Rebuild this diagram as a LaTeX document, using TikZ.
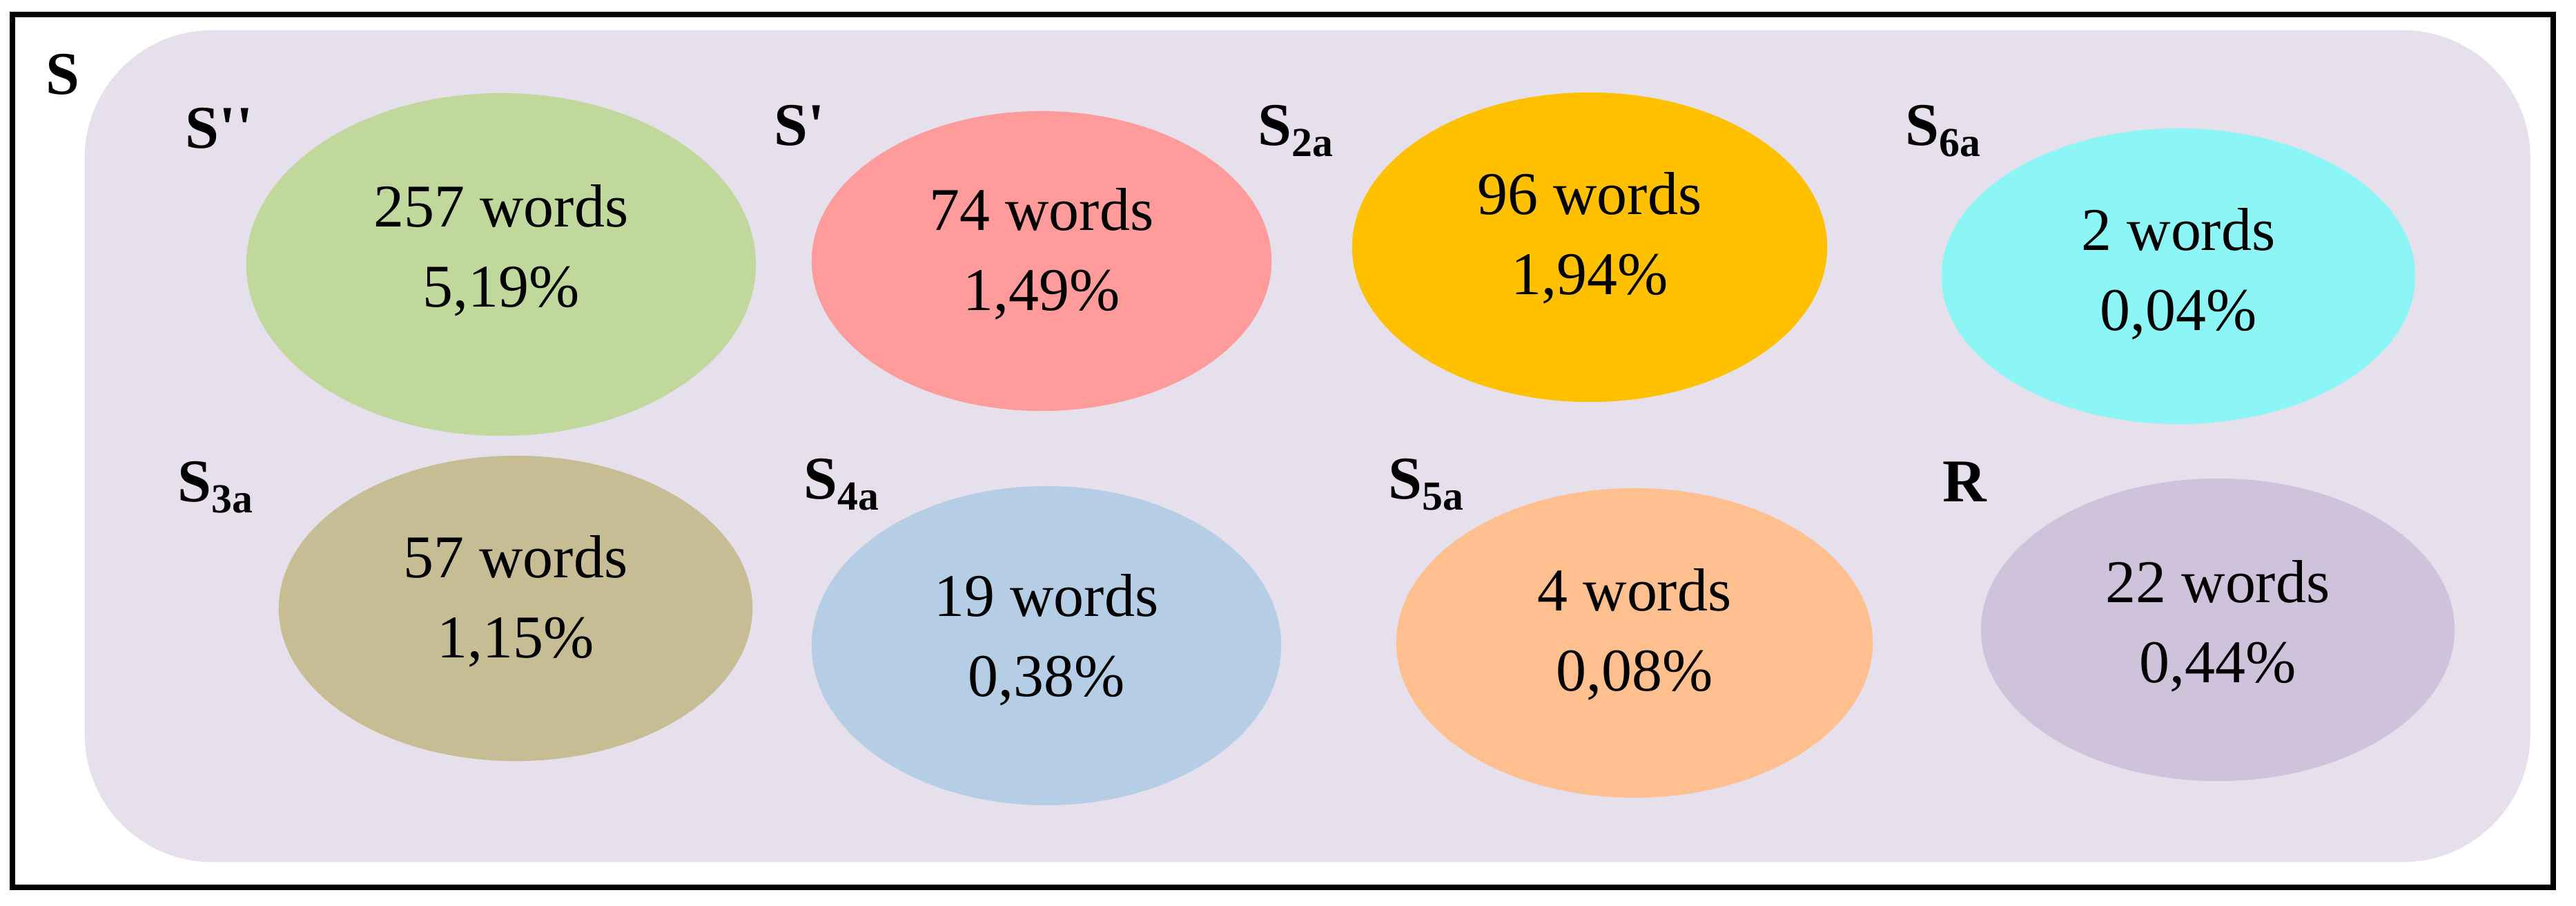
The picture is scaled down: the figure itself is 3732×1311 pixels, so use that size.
\documentclass[tikz,border=0pt]{standalone}
\usepackage{fontspec}
\setmainfont{Liberation Serif}
\usetikzlibrary{calc,shapes.geometric}
\definecolor{bgl}{HTML}{E6E0EC}
\definecolor{cgreen}{HTML}{C1D89C}
\definecolor{cpink}{HTML}{FF9B9B}
\definecolor{cyell}{HTML}{FFC000}
\definecolor{ccyan}{HTML}{8CF6F6}
\definecolor{colive}{HTML}{C6BD95}
\definecolor{cblue}{HTML}{B5CEE6}
\definecolor{cpeach}{HTML}{FFBF8F}
\definecolor{cpurp}{HTML}{CFC2DB}
\tikzset{
  blob/.style={ellipse, inner sep=0pt, draw=none},
  txt/.style={align=center, font=\fontsize{25}{33}\selectfont, inner sep=0pt},
  lbl/.style={font=\fontsize{25}{28}\selectfont\bfseries, inner sep=0pt, anchor=base west},
}
\newcommand{\sbx}[1]{\raisebox{-0.4ex}{\fontsize{17}{17}\selectfont\bfseries #1}}
\begin{document}
\begin{tikzpicture}[x=0.01cm,y=-0.01cm]
\useasboundingbox (0,0) rectangle (3732,1311);
\draw[line width=2.2pt] (18,21) rectangle (3699,1285);
\node[fill=bgl, rounded corners=1.85cm, minimum width=35.41cm, minimum height=12.04cm, inner sep=0pt, anchor=north west] (set) at (122,43) {};
\node[lbl] (lS) at (66,136) {S};
% ellipses
\node[blob, fill=cgreen, minimum width=7.38cm, minimum height=4.96cm] (e1) at (726,383) {};
\node[blob, fill=cpink, minimum width=6.66cm, minimum height=4.34cm] (e2) at (1509,378) {};
\node[blob, fill=cyell, minimum width=6.88cm, minimum height=4.48cm] (e3) at (2303,358) {};
\node[blob, fill=ccyan, minimum width=6.86cm, minimum height=4.28cm] (e4) at (3156,400) {};
\node[blob, fill=colive, minimum width=6.86cm, minimum height=4.42cm] (e5) at (747,881) {};
\node[blob, fill=cblue, minimum width=6.80cm, minimum height=4.62cm] (e6) at (1516,935) {};
\node[blob, fill=cpeach, minimum width=6.90cm, minimum height=4.48cm] (e7) at (2368,931) {};
\node[blob, fill=cpurp, minimum width=6.86cm, minimum height=4.38cm] (e8) at (3213,912) {};
% texts
\node[txt] (t1) at ($(e1.center)+(0,-20)$) {257 words\\5,19\%};
\node[txt] (t2) at ($(e2.center)+(0,-10)$) {74 words\\1,49\%};
\node[txt] (t3) at ($(e3.center)+(0,-13)$) {96 words\\1,94\%};
\node[txt] (t4) at ($(e4.center)+(0,-3)$) {2 words\\0,04\%};
\node[txt] (t5) at ($(e5.center)+(0,-10)$) {57 words\\1,15\%};
\node[txt] (t6) at ($(e6.center)+(0,-8)$) {19 words\\0,38\%};
\node[txt] (t7) at ($(e7.center)+(0,-12)$) {4 words\\0,08\%};
\node[txt] (t8) at ($(e8.center)+(0,-5)$) {22 words\\0,44\%};
% labels
\node[lbl] (l1) at (268,214) {S\textquotesingle\textquotesingle};
\node[lbl] (l2) at (1121,210) {S\textquotesingle};
\node[lbl] (l3) at (1822,210) {S\sbx{2a}};
\node[lbl] (l4) at (2760,210) {S\sbx{6a}};
\node[lbl] (l5) at (257,726) {S\sbx{3a}};
\node[lbl] (l6) at (1164,722) {S\sbx{4a}};
\node[lbl] (l7) at (2011,722) {S\sbx{5a}};
\node[lbl] (l8) at (2814,726) {R};
\end{tikzpicture}
\end{document}
